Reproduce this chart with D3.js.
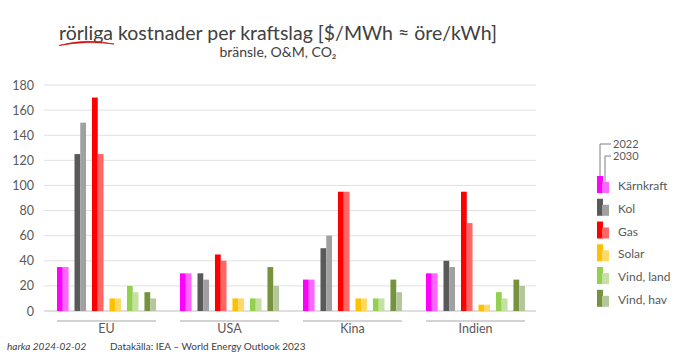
<!DOCTYPE html>
<html>
<head>
<meta charset="utf-8">
<script src="https://cdn.jsdelivr.net/npm/d3@7"></script>
<style>
  body { margin: 0; background: #fff; }
  svg { display: block; font-family: Lato, "Open Sans", sans-serif; }
</style>
</head>
<body>
<svg id="chart" width="700" height="356"></svg>
<script>
'use strict';

var regions = ['EU', 'USA', 'Kina', 'Indien'];
var kinds = ['Kärnkraft', 'Kol', 'Gas', 'Solar', 'Vind, land', 'Vind, hav'];
var years = ['2022', '2030'];

// cost per region, per kind, [2022, 2030]
var costEU     = [[35, 35], [125, 150], [170, 125], [10, 10], [20, 15], [15, 10]];
var costUSA    = [[30, 30], [30, 25],   [45, 40],   [10, 10], [10, 10], [35, 20]];
var costKina   = [[25, 25], [50, 60],   [95, 95],   [10, 10], [10, 10], [25, 15]];
var costIndien = [[30, 30], [40, 35],   [95, 70],   [5, 5],   [15, 10], [25, 20]];

var yTicks = [0, 20, 40, 60, 80, 100, 120, 140, 160, 180];

var colors2022 = ['#ff00ff', '#595959', '#ff0000', '#ffc000', '#92d050', '#76923c'];
var colors2030 = ['#ff66ff', '#a0a0a0', '#ff6666', '#ffd966', '#c5e0a0', '#b4c79c'];

var costs = [costEU, costUSA, costKina, costIndien];

var svg = d3.select('#chart');
var textColor = '#595959';

// title
var title = svg.append('text')
  .attr('x', 278).attr('y', 40)
  .attr('text-anchor', 'middle')
  .attr('font-size', 19.5)
  .attr('fill', '#404040');
title.append('tspan').attr('id', 'first-word').text('rörliga');
title.append('tspan').text(' kostnader per kraftslag [$/MWh ≈ öre/kWh]');

// red swoosh under the first word
var tb = title.node().getBBox();
var w = title.node().getSubStringLength(0, 7);
var sx = tb.x, ex = tb.x + w + 1;
var mx = (sx + ex) / 2;
svg.append('path')
  .attr('d', 'M' + sx + ',45.5 Q' + mx + ',38 ' + ex + ',44 Q' + mx + ',40.5 ' + sx + ',45.5 Z')
  .attr('fill', '#c00000')
  .attr('stroke', '#d42020')
  .attr('stroke-width', 0.8);

svg.append('text')
  .attr('x', 278).attr('y', 57)
  .attr('text-anchor', 'middle')
  .attr('font-size', 14)
  .attr('fill', '#404040')
  .text('bränsle, O&M, CO₂');

var y = d3.scaleLinear().domain([0, 180]).range([311, 85]);
var x0 = d3.scaleBand().domain(regions).range([44, 536]);
var x1 = d3.scaleBand().domain(kinds).range([13, 112]).paddingInner(0.34);
var x2 = d3.scaleBand().domain(years).range([0, x1.bandwidth()]);

// grid
svg.append('g')
  .selectAll('line').data(yTicks).enter()
  .append('line')
  .attr('x1', 44).attr('x2', 536)
  .attr('y1', function (d) { return y(d); })
  .attr('y2', function (d) { return y(d); })
  .attr('stroke', function (d) { return d === 0 ? '#bfbfbf' : '#e0e0e0'; })
  .attr('stroke-width', 1);

var yAxis = d3.axisLeft(y).tickValues(yTicks).tickSize(0).tickPadding(0);
svg.append('g')
  .attr('transform', 'translate(34,0)')
  .call(yAxis)
  .call(function (g) {
    g.select('.domain').remove();
    g.selectAll('text').attr('font-size', 12.5).attr('fill', textColor)
      .attr('font-family', 'Lato, "Open Sans", sans-serif');
  });

// bars
var groups = svg.append('g').selectAll('g.region').data(regions).enter()
  .append('g')
  .attr('transform', function (d) { return 'translate(' + x0(d) + ',0)'; });

groups.each(function (region, ri) {
  var g = d3.select(this);
  var data = [];
  kinds.forEach(function (k, ki) {
    years.forEach(function (yr, yi) {
      data.push({ kind: k, year: yr, ki: ki, yi: yi, value: costs[ri][ki][yi] });
    });
  });
  g.selectAll('rect').data(data).enter()
    .append('rect')
    .attr('x', function (d) { return x1(d.kind) + x2(d.year); })
    .attr('width', x2.bandwidth())
    .attr('y', function (d) { return y(d.value); })
    .attr('height', function (d) { return y(0) - y(d.value); })
    .attr('fill', function (d) { return d.yi === 0 ? colors2022[d.ki] : colors2030[d.ki]; });

  g.append('line')
    .attr('x1', x1(kinds[0])).attr('x2', x1(kinds[5]) + x1.bandwidth())
    .attr('y1', 321).attr('y2', 321)
    .attr('stroke', '#a6a6a6').attr('stroke-width', 1);

  g.append('text')
    .attr('x', (x1(kinds[0]) + x1(kinds[5]) + x1.bandwidth()) / 2)
    .attr('y', 333)
    .attr('text-anchor', 'middle')
    .attr('font-size', 12.5)
    .attr('fill', textColor)
    .text(region);
});

// legend
var legY = d3.scaleBand().domain(kinds).range([176, 308]).paddingInner(0.2);
var leg = svg.append('g');
var legItems = leg.selectAll('g').data(kinds).enter().append('g')
  .attr('transform', function (d) { return 'translate(597,' + legY(d) + ')'; });
legItems.append('rect')
  .attr('x', 0).attr('y', 0).attr('width', 6).attr('height', 17)
  .attr('fill', function (d, i) { return colors2022[i]; });
legItems.append('rect')
  .attr('x', 5).attr('y', 6).attr('width', 7).attr('height', 11)
  .attr('fill', function (d, i) { return colors2030[i]; });
legItems.append('text')
  .attr('x', 21).attr('y', 14)
  .attr('font-size', 12)
  .attr('fill', textColor)
  .text(function (d) { return d; });

// year key
leg.append('path')
  .attr('d', 'M600,176 V144 H611 M605,182 V156 H611')
  .attr('fill', 'none').attr('stroke', '#7f7f7f').attr('stroke-width', 1);
leg.selectAll('text.year').data(years).enter()
  .append('text')
  .attr('class', 'year')
  .attr('x', 613)
  .attr('y', function (d, i) { return 148 + i * 12; })
  .attr('font-size', 11)
  .attr('fill', textColor)
  .text(function (d) { return d; });

// footer
svg.append('text')
  .attr('x', 7).attr('y', 350)
  .attr('font-size', 10)
  .attr('font-style', 'italic')
  .attr('fill', '#404040')
  .text('harka 2024-02-02');
svg.append('text')
  .attr('x', 110).attr('y', 350)
  .attr('font-size', 10)
  .attr('fill', '#404040')
  .text('Datakälla: IEA – World Energy Outlook 2023');
</script>
</body>
</html>
